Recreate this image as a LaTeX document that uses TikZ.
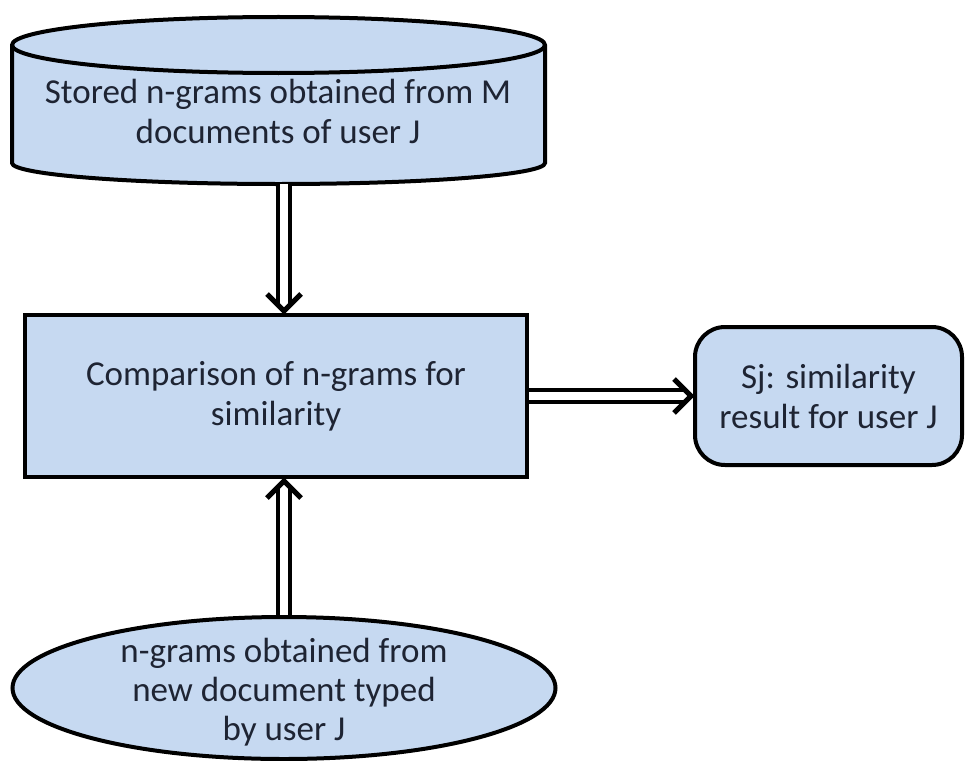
\documentclass[tikz,border=0pt]{standalone}
\usepackage{fontspec}
\setmainfont{Carlito}
\usetikzlibrary{calc,shapes.geometric}
\definecolor{boxfill}{HTML}{C6D9F1}
\definecolor{ink}{HTML}{1E2433}

\begin{document}
\begin{tikzpicture}[x=1pt,y=-1pt,
  shapeline/.style={draw=black,line width=4pt,fill=boxfill},
  txt/.style={text=ink,font=\fontsize{35}{40}\selectfont,align=center},
  shaft/.style={line width=4pt,double=white,double distance=8pt,shorten >=6pt},
  barb/.style={line width=5pt,miter limit=4},
]
\useasboundingbox (0,0) rectangle (968,760);

% stored n-grams: a drum (cylinder) drawn by hand
\path[shapeline] (12,45) -- (12,163)
  arc[start angle=180,end angle=0,x radius=266.5,y radius=21] -- (545,45)
  arc[start angle=0,end angle=-180,x radius=266.5,y radius=28] -- cycle;
\draw[line width=4pt] (12,45) arc[start angle=180,end angle=0,x radius=266.5,y radius=28];
\node[txt] (store) at (278,111) {Stored n-grams obtained from M\\documents of user J};
\coordinate (storebot) at (284,184);

% comparison step
\node[shapeline,minimum width=502pt,minimum height=162pt,inner sep=0pt,txt] (cmp) at (276,396)
  {Comparison of n-grams for\\similarity};

% result
\node[shapeline,rounded corners=30pt,minimum width=267pt,minimum height=138pt,inner sep=0pt,txt] (res) at (828.5,396)
  {Sj: similarity\\result for user J};

% new document n-grams
\node[shapeline,ellipse,minimum width=543pt,minimum height=142pt,inner sep=0pt] (new) at (284,688) {};
\node[txt,font=\fontsize{35}{39}\selectfont] (newtext) at (284,692)
  {n-grams obtained from\\new document typed\\by user J};

% connectors: double shafts closed by a heavy chevron
\coordinate (tipA) at ($(storebot |- cmp.north)+(0,-2)$);
\draw[shaft] (storebot) -- (tipA);
\draw[barb] ($(tipA)+(-17,-17)$) -- (tipA) -- ($(tipA)+(17,-17)$);

\coordinate (tipB) at ($(new.north |- cmp.south)+(0,2)$);
\draw[shaft] (new.north) -- (tipB);
\draw[barb] ($(tipB)+(-17,17)$) -- (tipB) -- ($(tipB)+(17,17)$);

\coordinate (tipC) at ($(res.west)+(-2,0)$);
\draw[shaft] (cmp.east) -- (tipC);
\draw[barb] ($(tipC)+(-17,-17)$) -- (tipC) -- ($(tipC)+(-17,17)$);
\end{tikzpicture}
\end{document}
